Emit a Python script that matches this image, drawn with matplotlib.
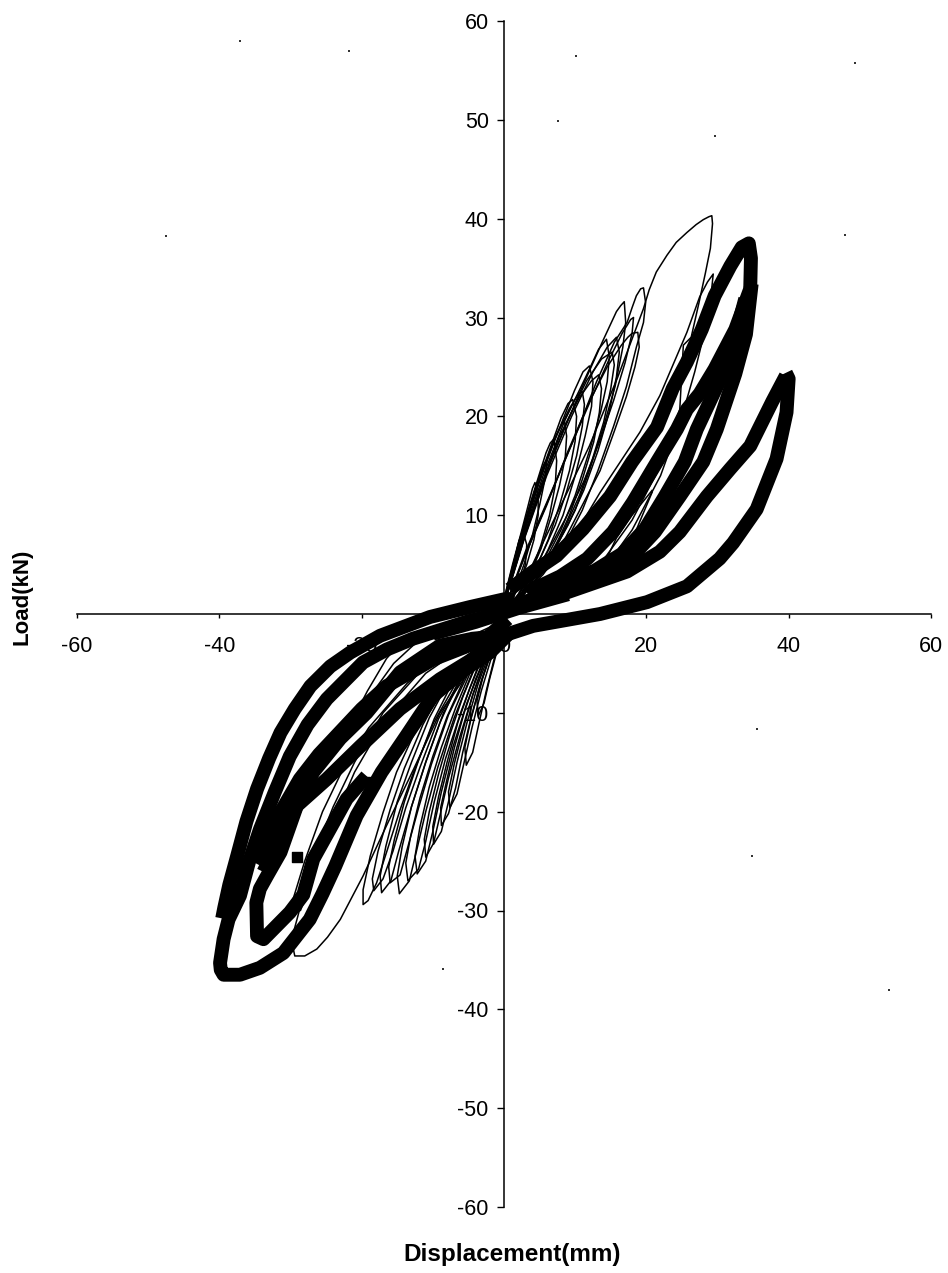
import matplotlib
matplotlib.use("Agg")
import matplotlib.pyplot as plt

plt.rcParams['font.family'] = ['Liberation Sans', 'DejaVu Sans']

# ticks
xticks = [-60, -40, -20, 0, 20, 40, 60]
yticks = [-60, -50, -40, -30, -20, -10, 0, 10, 20, 30, 40, 50, 60]

# thin loops, positive side
thin_up_x = [
    [0.5, 4, 8, 12, 16, 19.6, 20.4, 21.4, 22.9, 24.2, 25.7, 27, 28, 28.8, 29.2, 29.3, 29, 28.3, 27.4, 26.3, 25.2, 24.7, 22, 18, 14, 8, 3, 0],
    [1.3, 6.9, 10.7, 13.5, 19.1, 21.9, 25.7, 27.5, 28.6, 29.4, 29.2, 28.8, 28, 26.8, 25, 22, 18, 14, 9, 4, 0],
    [0.3, 3, 6.5, 10, 13, 15.5, 17.3, 18, 18.6, 19.2, 19.6, 19.9, 19.6, 18.6, 17.2, 15.4, 13.2, 11, 8.5, 5.5, 2.5, 0.5],
    [0.3, 3, 6, 9, 12, 14.5, 16.5, 17.4, 18, 18.8, 19, 18.4, 17.2, 15.5, 13.5, 11, 8.5, 5.5, 2.5, 0.4],
    [0.3, 3, 6.2, 9.4, 12.4, 14.8, 16.6, 17.8, 18.2, 18, 17, 15.4, 13.4, 11.2, 8.6, 5.6, 2.5, 0.4],
    [0.2, 2.9, 6.6, 10.7, 13.8, 15.8, 16.4, 16.9, 17.1, 16.7, 15.6, 14, 12, 10, 7.5, 4.8, 2, 0.4],
    [0.2, 2.8, 6, 9.5, 12.5, 14.5, 15.8, 16.2, 15.8, 14.8, 13.2, 11.2, 9, 6.5, 4, 1.5, 0.3],
    [0.2, 2.8, 5.8, 8.8, 11.6, 13.7, 15.2, 15.5, 15, 14, 12.4, 10.6, 8.5, 6, 3.5, 1.2, 0.3],
    [0.2, 2.7, 5.5, 8.5, 11.5, 13.3, 14.4, 14.8, 14.5, 13.6, 12, 10, 8, 5.5, 3, 0.5],
    [0.2, 2.6, 5.2, 7.8, 10.5, 12.3, 13.3, 13.7, 13.4, 12.6, 11, 9.2, 7.2, 5, 2.6, 0.4],
    [0.1, 2.6, 5.2, 7.8, 9.9, 11.1, 12, 12.5, 12.3, 11.4, 10, 8.3, 6.2, 4, 2, 0.3],
    [0.1, 2.4, 4.9, 7.2, 9.2, 10.4, 11, 11.3, 11, 10.2, 8.8, 7.2, 5.2, 3.2, 1.5, 0.3],
    [0.1, 2.2, 4.6, 6.6, 8, 9, 9.65, 10.2, 10, 9.2, 7.8, 6.2, 4.4, 2.5, 0.3],
    [0.1, 2.1, 4.2, 6, 7.4, 8.2, 8.5, 8.8, 8.6, 7.8, 6.6, 5.2, 3.6, 2, 0.2],
    [0, 2, 3.6, 4.9, 5.9, 6.5, 7, 7.4, 7.2, 6.4, 5.2, 3.8, 2, 0.2],
    [0, 1.6, 3, 4.2, 5.2, 5.7, 6, 5.8, 5, 4, 2.8, 1.4, 0.1],
    [0, 1.2, 2.4, 3.4, 4, 4.35, 4.8, 4.8, 4.2, 3.2, 2, 0.2],
    [0, 0.7, 1.4, 2.1, 2.7, 3.2, 3, 2.2, 1, 0],
    [0.5, 7, 13.5, 15.8, 18, 20.8],
    [12, 16, 18, 20.8],
]
thin_up_y = [
    [1, 5, 11, 17, 24, 30.9, 32.8, 34.6, 36.3, 37.6, 38.6, 39.4, 39.9, 40.2, 40.3, 39.5, 37, 34.5, 31.5, 28, 27.2, 20.7, 15, 9.5, 5.5, 2.5, 1, 0],
    [3.2, 6.2, 8.9, 12.3, 18.4, 22.1, 28.5, 32.1, 33.6, 34.4, 33, 31, 28, 24.5, 20, 14, 8.5, 4.5, 2, 0.8, 0],
    [1, 6, 12, 18, 23.5, 27.5, 29.5, 31, 32.2, 32.9, 33, 31.5, 29.5, 27, 23, 19, 14.5, 10.5, 7, 4, 1.8, 0.6],
    [1, 6, 11, 16.5, 21.5, 25, 27.2, 28, 28.4, 28.5, 27, 25, 22, 18.5, 14.5, 11, 7.5, 4.2, 1.8, 0.5],
    [1, 6.3, 11.6, 17, 22, 25.8, 28.4, 29.8, 30, 28.4, 25.4, 21.6, 17.4, 13.4, 9.6, 5.6, 2.2, 0.5],
    [1.5, 7.8, 15.5, 22.5, 27.5, 30.6, 31.2, 31.6, 29.5, 27, 23, 19, 14.5, 10.5, 7, 3.8, 1.5, 0.5],
    [1.4, 7.5, 14, 20, 24.5, 27, 28, 26.5, 24, 20.5, 16.5, 12.5, 9, 5.8, 3, 1.1, 0.4],
    [1.4, 7.8, 14, 19.4, 23.6, 25.8, 26.5, 25.2, 22.8, 19.4, 15.6, 12, 8.6, 5.4, 2.8, 1, 0.4],
    [1.5, 8, 14, 19.5, 24, 26.8, 27.8, 26, 23.5, 20.5, 16.5, 12, 8.5, 5, 2.5, 0.6],
    [1.5, 7.5, 13, 18, 21.8, 23.6, 24.2, 22.8, 20.4, 17.4, 13.6, 10, 6.8, 3.9, 1.8, 0.4],
    [1.5, 8, 14, 18.8, 22.6, 24.5, 25.1, 23.5, 21, 18, 14, 10, 6.5, 3.5, 1.6, 0.4],
    [1.5, 7.6, 13.2, 17.8, 20.8, 22.2, 22.5, 21.2, 19, 16, 12.4, 9, 5.8, 3.2, 1.4, 0.4],
    [1.5, 7.5, 13, 17, 19.8, 21.3, 21.7, 20, 17.5, 14.5, 11, 7.5, 4.5, 2.2, 0.4],
    [1.5, 7, 12, 15.6, 18.2, 19.3, 19.5, 18, 15.8, 13, 9.8, 6.6, 3.9, 1.9, 0.3],
    [1.5, 7, 11, 14, 16.3, 17.3, 17.7, 15.5, 13, 10, 7, 4.2, 2, 0.4],
    [1.2, 5.8, 9.4, 12.2, 14.4, 15.3, 15.5, 13.8, 11, 8, 5, 2.2, 0.3],
    [1.5, 5, 8.2, 11, 12.7, 13.3, 12, 10, 7.5, 5, 2.8, 0.4],
    [1, 3, 5.2, 7.4, 8.3, 7, 5, 3, 1.2, 0.3],
    [1, 3, 4.2, 7.7, 10, 12.5],
    [3.6, 4.8, 7.5, 12.3],
]

# thin loops, negative side
thin_down_x = [
    [-0.6, -3.3, -9, -12.7, -16.5, -19.8, -23, -24.8, -26.3, -28, -29.4, -29.6, -29.5, -28.2, -26.5, -24, -21, -17, -12, -6, -1],
    [0, -5, -11, -17, -21, -24, -26.8, -27.5, -28.6, -29.6, -29.7, -28, -25.5, -22.5, -19, -13.6, -7, -1],
    [-2.4, -6.2, -9.9, -12.7, -14.6, -16.5, -17.9, -19.1, -19.8, -19.8, -18.8, -17, -15.1, -12.3, -9, -5.2, -1.5],
    [-2.2, -5.8, -9.2, -11.8, -13.8, -15.6, -17, -18.3, -18.5, -17.7, -16, -14, -11.4, -8.2, -4.6, -1.2],
    [-2, -5.5, -8.5, -11, -13, -14.8, -15.9, -17.2, -17.4, -16.6, -15, -13, -10.5, -7.5, -4, -1],
    [-1.8, -5, -7.8, -10.2, -12, -13.6, -14.6, -16, -16.2, -15.4, -14, -12, -9.8, -7, -3.8, -0.9],
    [-1.5, -4.5, -7, -9.3, -11, -12.3, -13.3, -14.7, -15, -14.3, -13, -11, -9, -6.5, -3.5, -0.8],
    [-1.2, -3.8, -6, -8.2, -9.8, -11, -12, -13.5, -13.8, -13.1, -11.8, -10, -8, -5.5, -2.8],
    [-0.8, -3, -5.2, -7.2, -8.8, -10, -11, -12.2, -12.5, -11.8, -10.5, -8.8, -6.8, -4.5, -2],
    [-0.6, -2.4, -4.3, -6.2, -7.8, -9, -9.9, -11, -11.2, -10.5, -9.2, -7.6, -5.8, -3.6, -1.4],
    [-0.3, -1.8, -3.6, -5.2, -6.6, -7.8, -8.8, -9.9, -10, -9.2, -8, -6.5, -4.8, -2.8, -0.8],
    [-0.3, -1.6, -3.2, -4.6, -5.8, -6.8, -7.8, -8.8, -8.9, -8.1, -7, -5.6, -4, -2.2, -0.6],
    [-0.3, -1.8, -3.2, -4.5, -5.6, -6.6, -7.6, -7.8, -7, -5.8, -4.4, -2.8, -1],
    [-0.2, -1.4, -2.5, -3.5, -4.4, -5.3, -5.5, -4.7, -3.6, -2.3, -0.8],
    [0, -1, -2, -2.8, -3.6, -3.8, -3, -1.8, -0.4],
    [-13.6, -16.5, -19.2, -21.2, -21, -18, -15.5, -12.5],
]
thin_down_y = [
    [-1.5, -4.2, -10, -15.7, -21.4, -26.5, -30.9, -32.7, -33.9, -34.6, -34.6, -33.9, -32, -28.5, -24, -19.5, -15, -10, -6, -3, -1.2],
    [-1, -3, -6, -11, -16, -21, -25, -28, -30, -30.2, -29, -25, -20, -15.5, -11.5, -7, -3, -1],
    [-2.9, -6.3, -11, -16, -19.8, -24.1, -27.2, -29, -29.4, -27.9, -24.5, -20.1, -16, -11.6, -7.3, -4.2, -2.2],
    [-2.7, -6.2, -10.6, -15.5, -19.6, -24, -26.8, -28, -26.8, -24, -19.8, -15.6, -11.2, -7, -3.9, -2],
    [-2.5, -6, -10, -15, -19.5, -24, -27, -28.2, -26.5, -23.5, -19, -15, -10.5, -6.5, -3.5, -1.8],
    [-2.5, -6, -10.2, -15.2, -19.6, -23.8, -26.4, -27.2, -25.6, -22.8, -19, -14.8, -10.6, -6.6, -3.6, -1.8],
    [-2.5, -6, -10.5, -15.5, -20, -24, -27, -28.3, -26.5, -23.5, -19.5, -15, -11, -7, -3.8, -1.8],
    [-2.2, -5.6, -9.8, -14.6, -19, -23, -25.8, -27, -25.2, -22.4, -18.6, -14.4, -10.4, -6.4, -3.3],
    [-1.8, -5, -9, -13.5, -18, -22, -25, -26.3, -24.5, -21.5, -17.5, -13.5, -9.5, -5.5, -2.8],
    [-1.5, -4.2, -8, -12.4, -16.6, -20.4, -23.2, -24.6, -22.8, -20, -16.2, -12.2, -8.4, -4.6, -2.2],
    [-1.3, -3.5, -7, -11, -15, -19, -22, -23.3, -21.5, -18.5, -15, -11, -7.5, -4, -1.8],
    [-1.3, -3.6, -6.8, -10.4, -14, -17.6, -20.2, -21.4, -19.6, -17, -13.6, -10, -6.6, -3.6, -1.6],
    [-1.5, -4.5, -7.8, -11.5, -15, -18.2, -19.6, -18, -15.2, -11.8, -8.2, -5, -2.2],
    [-1.5, -4.6, -7.8, -11, -14, -15.3, -13.5, -10.8, -7.8, -4.8, -2],
    [-1.2, -3.8, -6.5, -9, -10.3, -8.8, -6.5, -3.8, -1.6],
    [-2.2, -4.5, -7.8, -10.6, -10.4, -7.5, -5, -3],
]

# heavy cycles
thick_x = [
    [0.8, 4.1, 7.4, 11.1, 14.9, 18, 21.5, 23.7, 25.7, 27.8, 29.6, 31.8, 33.4, 34.4, 34.7, 34.6],
    [3.2, 7.9, 11.7, 15.3, 18.1, 21.5, 24.3, 25.7, 27.5, 29.6, 32.5, 34.6],
    [6.5, 12.8, 16.6, 19.8, 22.6, 25.4, 27.1, 30.1, 32.2, 33.9],
    [1.8, 6.5, 13.5, 17.7, 21.2, 24.7, 28, 29.9, 32.5, 34, 34.8],
    [2.2, 8.9, 17.3, 21.9, 24.7, 28.5, 31.8, 34.6, 37.7, 39.6],
    [-0.6, 4.1, 13.5, 20.1, 25.7, 30.3, 32.2, 35.5, 38.3, 39.7, 40, 39.6],
    [1.5, 0.1, -4.8, -10.4, -17.4, -21.6, -24.4, -27.2, -29.4, -31.4, -33, -34.7, -36.2, -37.5, -38.6, -39.3, -39.6],
    [0.5, -5.3, -12.8, -16.5, -19.8, -24.9, -27.6, -30.1, -32.2, -34.3, -35.8, -37.1, -38.7, -39.4, -39.9, -39.8, -39.4, -37.1, -34.3, -31, -27.3, -25.5, -23.7, -20.7, -17.2, -13.7, -10, -5.7, -2, 0.8],
    [-0.1, -4.4, -9, -14.6, -19.3, -23, -26.8, -29.1, -31.4, -33.3, -34.3, -34.8, -34.7, -33.8, -30.1, -28.2, -26.8, -22.1, -19.3],
    [0.5, -2.5, -10, -16.5, -20, -23, -26, -28.7, -32, -35.2],
    [-2, -9, -14.6, -20.2, -24.9, -29.1, -31.4, -33.8],
    [-10, -4, 2, 9],
]
thick_y = [
    [2.5, 4.3, 5.9, 8.6, 11.9, 15.4, 18.9, 22.8, 25.5, 28.8, 32.2, 35.2, 37.1, 37.5, 36, 33],
    [2.2, 3.8, 5.6, 8.3, 11.3, 15.4, 18.7, 20.7, 22.3, 24.8, 28.8, 32.9],
    [2.7, 4.4, 6.1, 8.6, 11.9, 15.4, 18.7, 23.3, 27.3, 31.9],
    [1, 2, 3.7, 5.6, 8.3, 11.9, 15.4, 18.7, 24.3, 28.3, 33.4],
    [0.8, 2.2, 4.3, 6.3, 8.3, 11.9, 14.7, 17, 21.5, 24.1],
    [-2.3, -1.2, 0, 1.2, 2.8, 5.6, 7.2, 10.6, 15.7, 20.4, 23.8, 24.4],
    [1.5, 1.5, 0.7, -0.3, -2.2, -3.9, -5.3, -7.3, -9.6, -12, -14.6, -17.7, -21, -24.5, -27.4, -29.7, -30.8],
    [0.3, -0.8, -2.5, -3.6, -4.9, -8.6, -11.2, -14.4, -18, -21.8, -25, -28.5, -30.9, -32.9, -35.3, -36, -36.5, -36.5, -35.8, -34.3, -30.9, -28.3, -25.5, -20.4, -16, -12.3, -8.3, -5.7, -3.9, -1.9],
    [-2.2, -2.5, -3.2, -5.9, -10, -12.6, -16, -19.4, -24.1, -26.5, -27.8, -29.2, -32.6, -32.9, -30.2, -28.4, -24.8, -18.7, -16.4],
    [-0.5, -2.5, -4.6, -7.3, -9.6, -11.9, -14.2, -16.7, -20.8, -25.1],
    [-3.5, -6.6, -9.6, -13.4, -16.7, -19.4, -22.6, -26.1],
    [-2, -0.8, 0.6, 2],
]

# small blobs on the heavy curves
blob_x = [-29.1, -19.5]
blob_y = [-24.6, -17]

# scan specks
speck_x = [-37.1, 10.1, 49.3, 7.6, 29.6, -21.8, -47.5, 47.9, 35.5, 34.8, -8.6, 54.1]
speck_y = [58, 56.5, 55.7, 49.9, 48.4, 57, 38.2, 38.3, -11.6, -24.5, -35.9, -38]

W, H = 948, 1273
fig = plt.figure(figsize=(W/100., H/100.), dpi=100)
ax = fig.add_axes([77./W, 1-1207./H, 854./W, 1186./H])

for x, y in zip(thin_up_x + thin_down_x, thin_up_y + thin_down_y):
    ax.plot(x, y, color='k', lw=1.1, solid_joinstyle='round', zorder=3)
for x, y in zip(thick_x, thick_y):
    ax.plot(x, y, color='k', lw=10, solid_joinstyle='round', solid_capstyle='butt', zorder=4)
ax.scatter(blob_x, blob_y, marker='s', s=45, color='k', zorder=4)
ax.scatter(speck_x, speck_y, marker='s', s=1.2, color='#333333', linewidths=0, zorder=4)

ax.set_xlim(-60, 60)
ax.set_ylim(-60, 60)
ax.spines['top'].set_visible(False)
ax.spines['right'].set_visible(False)
ax.spines['left'].set_position('zero')
ax.spines['bottom'].set_position('zero')
ax.spines['left'].set_linewidth(1.1)
ax.spines['bottom'].set_linewidth(1.1)
ax.set_axisbelow(True)

ax.set_xticks(xticks)
ax.set_yticks([t for t in yticks if t != 0])
ax.set_xticklabels([str(t) for t in xticks])
ax.set_yticklabels([str(t) for t in yticks if t != 0])
ax.tick_params(axis='x', direction='out', length=3, width=1, pad=13, labelsize=15.5)
ax.tick_params(axis='y', direction='out', length=5, width=1, pad=6, labelsize=15.5)

fig.text(22./W, 1-597./H, "Load(kN)", rotation=90, ha='center', va='center', fontsize=16, fontweight='bold')
fig.text(512./W, 1-1254./H, "Displacement(mm)", ha='center', va='center', fontsize=17.5, fontweight='bold')

fig.savefig("out.png", dpi=100)
